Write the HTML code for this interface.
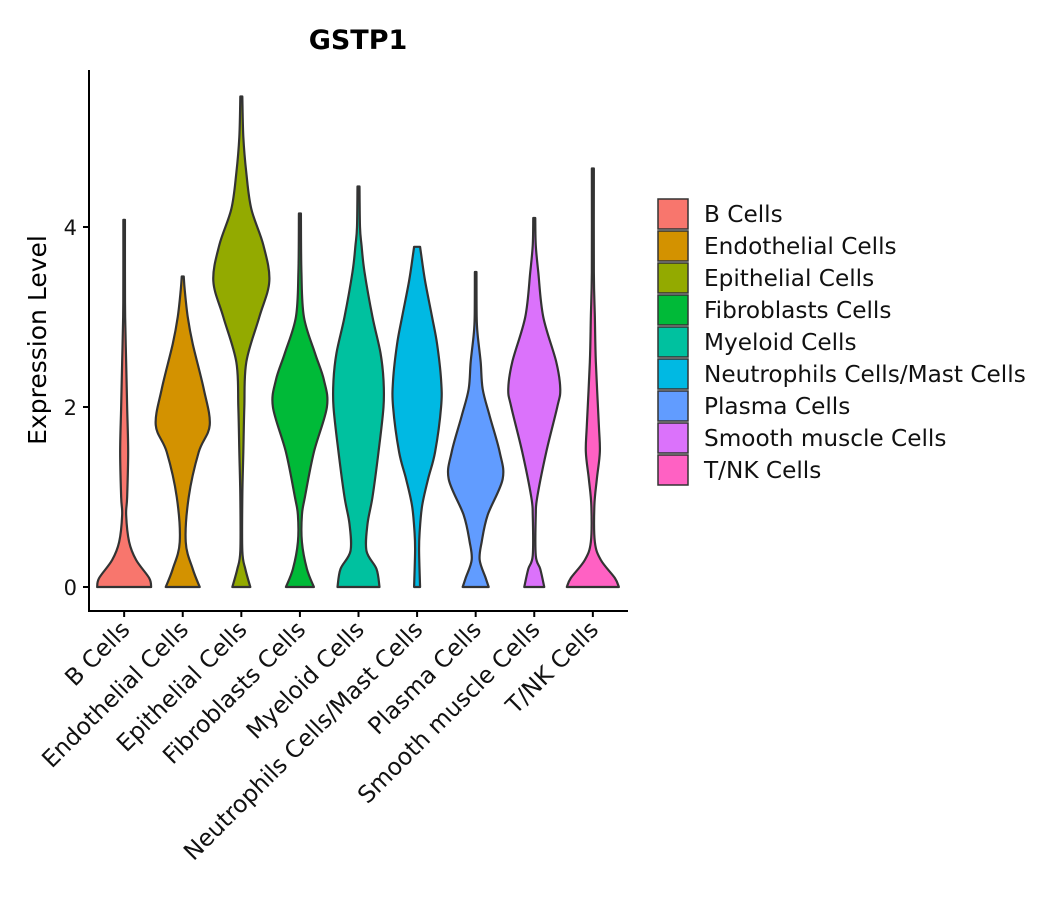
<!DOCTYPE html>
<html><head><meta charset="utf-8"><style>
body{margin:0;background:#fff;}
svg{display:block;font-family:"DejaVu Sans","Liberation Sans",sans-serif;}
</style></head><body>
<svg id="chart" width="1057" height="900">
<text x="358" y="49" text-anchor="middle" font-size="27" font-weight="bold">GSTP1</text>
<text transform="translate(46,340) rotate(-90)" text-anchor="middle" font-size="25">Expression Level</text>
<g id="violins"></g>
<g id="axes"></g>
<g id="legend"></g>
</svg>
<script>
const categories=["B Cells","Endothelial Cells","Epithelial Cells","Fibroblasts Cells","Myeloid Cells","Neutrophils Cells/Mast Cells","Plasma Cells","Smooth muscle Cells","T/NK Cells"];
const colors=["#F8766D","#D39200","#93AA00","#00BA38","#00C19F","#00B9E3","#619CFF","#DB72FB","#FF61C3"];
const yTicks=[0,2,4];
// density profiles: [value, half-width]
const profB=[[0,27],[0.1,25],[0.3,12],[0.5,5],[0.8,2],[1.0,3],[1.5,4],[2,3],[2.5,2],[3,1],[3.5,0.8],[4.08,0.8]];
const profEndo=[[0,17],[0.2,10],[0.5,3],[1.0,6],[1.5,16],[1.8,27],[2.2,21],[2.7,10],[3.0,5],[3.3,2],[3.45,1]];
const profEpi=[[0,9],[0.2,4],[0.4,1],[1,1],[1.5,2],[2.0,3],[2.5,5],[3.0,18],[3.4,28],[3.8,22],[4.2,10],[4.6,5],[5.0,2],[5.45,1]];
const profFib=[[0,14],[0.2,7],[0.5,2],[0.8,2],[1.0,5],[1.5,14],[2.0,27],[2.3,24],[2.6,15],[3.0,4],[3.5,1.5],[4.15,1]];
const profMye=[[0,21],[0.2,18],[0.4,8],[0.7,9],[1.0,14],[1.5,20],[2.0,25],[2.3,25],[2.6,22],[3.0,14],[3.5,6],[3.8,3],[4.0,1.5],[4.45,1]];
const profNeu=[[0,3],[0.4,2],[0.6,2.5],[0.9,5],[1.2,11],[1.5,18],[2.0,24],[2.3,24],[2.7,20],[3.0,15],[3.4,8],[3.7,4],[3.78,3]];
const profPla=[[0,13],[0.1,10],[0.3,4],[0.5,6],[0.8,12],[1.2,27],[1.5,24],[1.9,14],[2.2,7],[2.5,5],[2.8,2],[3.0,1],[3.5,0.8]];
const profSmo=[[0,10],[0.2,6],[0.35,1.5],[0.8,1.5],[1.0,3],[1.5,12],[2.0,23],[2.2,26],[2.5,22],[3.0,9],[3.5,4],[3.8,1.5],[4.1,1]];
const profTNK=[[0,26],[0.1,22],[0.3,8],[0.5,2],[0.9,1.5],[1.2,4],[1.5,7],[1.8,6],[2.5,3],[3,2],[3.5,1],[4.65,1]];
const profiles=[profB,profEndo,profEpi,profFib,profMye,profNeu,profPla,profSmo,profTNK];

const NS="http://www.w3.org/2000/svg";
const L=89,R=628,T=70,B=611;
const step=(R-L)/9.2;
function xScale(i){return L+(i+0.6)*step;}
function yScale(v){return 587-v*90;}
function mk(t,a,p){const e=document.createElementNS(NS,t);for(const k in a)e.setAttribute(k,a[k]);p.appendChild(e);return e;}
function smooth(pts){let d="M"+pts[0][0]+","+pts[0][1];
 for(let i=0;i<pts.length-1;i++){const p0=pts[Math.max(0,i-1)],p1=pts[i],p2=pts[i+1],p3=pts[Math.min(pts.length-1,i+2)];
 const c1=[p1[0]+(p2[0]-p0[0])/6,p1[1]+(p2[1]-p0[1])/6],c2=[p2[0]-(p3[0]-p1[0])/6,p2[1]-(p3[1]-p1[1])/6];
 d+=" C"+c1[0]+","+c1[1]+" "+c2[0]+","+c2[1]+" "+p2[0]+","+p2[1];}return d;}
const gV=document.getElementById('violins');
profiles.forEach((pr,i)=>{const cx=xScale(i);
 const right=pr.map(p=>[cx+p[1],yScale(p[0])]);
 const left=pr.slice().reverse().map(p=>[cx-p[1],yScale(p[0])]);
 let d=smooth(right);d+=" L"+left[0][0]+","+left[0][1];d+=smooth(left).replace(/^M[^ ]+/,"");d+=" Z";
 const el=mk('path',{d:d,fill:colors[i],stroke:'#333','stroke-width':2.2,'stroke-linejoin':'round'},gV);
 
 
});
const gA=document.getElementById('axes');
const ya=mk('path',{d:`M${L},${T}V${B}H${R}`,fill:'none',stroke:'#000','stroke-width':2},gA);


yTicks.forEach(v=>{mk('line',{x1:L-6,x2:L,y1:yScale(v),y2:yScale(v),stroke:'#000','stroke-width':2},gA);
 const t=mk('text',{x:L-12,y:yScale(v)+8,'text-anchor':'end','font-size':21,fill:'#111'},gA);t.textContent=v;
 
 });
categories.forEach((c,i)=>{const x=xScale(i);mk('line',{x1:x,x2:x,y1:B,y2:B+6,stroke:'#000','stroke-width':2},gA);
 const t=mk('text',{transform:`translate(${x+7},${B+20}) rotate(-45)`,'text-anchor':'end','font-size':23.5,fill:'#111'},gA);t.textContent=c;
 
 });
const gL=document.getElementById('legend');
categories.forEach((c,i)=>{const y=199+i*32;
 const r=mk('rect',{x:658,y:y,width:30,height:30,fill:colors[i],stroke:'#333','stroke-width':1.5},gL);
 
 
 const t=mk('text',{x:704,y:y+23,'font-size':23.2,fill:'#111'},gL);t.textContent=c;
 
 });
</script>
</body></html>
